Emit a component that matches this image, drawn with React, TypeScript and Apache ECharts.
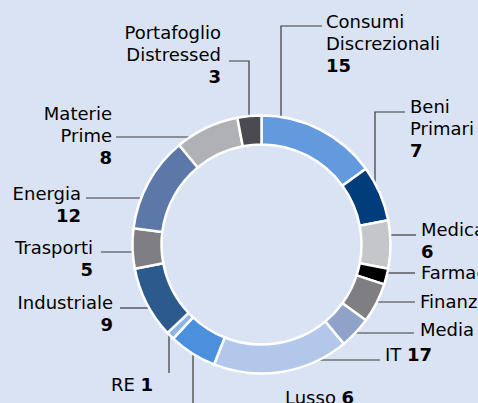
import React, { useEffect, useRef } from "react";
import * as echarts from "echarts";

// ---- data ----
const categories = [
  "Consumi\nDiscrezionali",
  "Beni\nPrimari",
  "Medicale",
  "Farmaceutico",
  "Finanziario",
  "Media",
  "IT",
  "Lusso",
  "RE",
  "Industriale",
  "Trasporti",
  "Energia",
  "Materie\nPrime",
  "Portafoglio\nDistressed",
];
const values = [15, 7, 6, 2, 5, 4, 17, 6, 1, 9, 5, 12, 8, 3];

// ---- styles / layout ----
const colors = [
  "#6399dd",
  "#003d7a",
  "#c5c6ca",
  "#000000",
  "#7f7e83",
  "#8fa2c8",
  "#b3c7ea",
  "#4a90dc",
  "#8db4e2",
  "#2d5a8d",
  "#7f7f83",
  "#5b78a8",
  "#b0b1b5",
  "#4b4a50",
];
// value on the same line as the name?
const inlineValue = [false, false, false, true, true, true, true, true, true, false, false, false, false, false];

type Pos = { x: number; y: number; align: "left" | "right"; line: number[][] };
const labelPos: Pos[] = [
  { x: 326, y: 43, align: "left", line: [[281, 124], [281, 26], [322, 26]] },
  { x: 410, y: 128, align: "left", line: [[375, 186], [375, 112], [405, 112]] },
  { x: 421, y: 240, align: "left", line: [[388, 235], [416, 235]] },
  { x: 421, y: 272, align: "left", line: [[387, 273], [415, 273]] },
  { x: 420, y: 301, align: "left", line: [[375, 302], [415, 302]] },
  { x: 420, y: 329, align: "left", line: [[353, 333], [414, 333]] },
  { x: 385, y: 354, align: "left", line: [[313, 360], [380, 360]] },
  { x: 285, y: 397, align: "left", line: [[193, 353], [193, 412], [280, 412]] },
  { x: 153, y: 384, align: "right", line: [[169, 333], [169, 373]] },
  { x: 113, y: 313, align: "right", line: [[152, 308], [120, 308]] },
  { x: 93, y: 258, align: "right", line: [[135, 252], [101, 252]] },
  { x: 81, y: 204, align: "right", line: [[145, 198], [86, 198]] },
  { x: 112, y: 135, align: "right", line: [[206, 137], [116, 137]] },
  { x: 221, y: 54, align: "right", line: [[249, 119], [249, 61], [229, 61]] },
];

const FONT = "DejaVu Sans";
const TXT = "#000000";

export default function App() {
  const ref = useRef<HTMLDivElement>(null);
  useEffect(() => {
    if (!ref.current) return;
    const chart = echarts.init(ref.current, null, { renderer: "svg" });
    const base = { fontFamily: FONT, fontSize: 18, lineHeight: 22, color: TXT };
    const data = categories.map((name, i) => {
      const right = labelPos[i].align === "right";
      const n = right ? "c" : "a";
      const v = right ? "d" : "b";
      const lines = name.split("\n").map((s) => `{${n}|${s}}`);
      let fmt: string;
      if (inlineValue[i]) {
        fmt = `${lines.join("\n")}{${n}| }{${v}|${values[i]}}`;
      } else {
        fmt = `${lines.join("\n")}\n{${v}|${values[i]}}`;
      }
      return {
        name: name.replace("\n", " "),
        value: values[i],
        itemStyle: { color: colors[i] },
        label: { formatter: fmt },
      };
    });
    chart.setOption({
      animation: false,
      backgroundColor: "#dae3f3",
      series: [
        {
          type: "pie",
          center: [261.5, 244.5],
          radius: [100, 129],
          startAngle: 90,
          clockwise: true,
          avoidLabelOverlap: false,
          silent: true,
          itemStyle: { borderColor: "#ffffff", borderWidth: 2.5 },
          label: {
            show: true,
            position: "outside",
            ...base,
            rich: {
              a: { ...base, align: "left" },
              b: { ...base, fontWeight: "bold", align: "left" },
              c: { ...base, align: "right" },
              d: { ...base, fontWeight: "bold", align: "right" },
            },
          },
          labelLine: { show: true, lineStyle: { color: "#3a3a3a", width: 1.2 } },
          labelLayout: (p: any) => {
            const L = labelPos[p.dataIndex];
            return {
              x: L.x,
              y: L.y,
              align: L.align,
              verticalAlign: "middle",
              labelLinePoints: L.line,
            };
          },
          data,
        },
      ],
    });
    return () => chart.dispose();
  }, []);
  return (
    <div
      ref={ref}
      style={{ position: "fixed", left: 0, top: 0, width: 478, height: 403, background: "#dae3f3" }}
    />
  );
}
